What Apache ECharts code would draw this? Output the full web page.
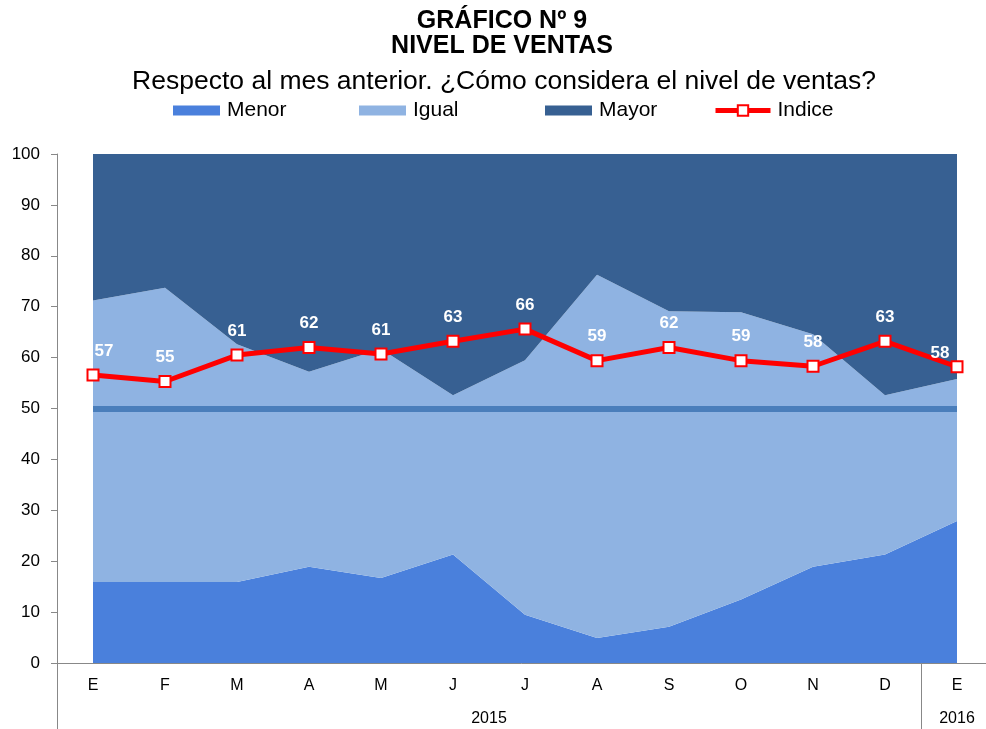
<!DOCTYPE html>
<html>
<head>
<meta charset="utf-8">
<script src="https://cdn.jsdelivr.net/npm/echarts@6/dist/echarts.min.js"></script>
<style>
  html, body { margin: 0; padding: 0; background: #fff; }
  #chart { width: 986px; height: 729px; }
</style>
</head>
<body>
<div id="chart"></div>
<script>
// meses (2015 + enero 2016)
const months = ['E', 'F', 'M', 'A', 'M', 'J', 'J', 'A', 'S', 'O', 'N', 'D', 'E'];
const years = ['2015', '2016'];
// porcentajes
const menor = [15.9, 15.9, 15.9, 18.9, 16.7, 21.3, 9.5, 4.9, 7.1, 12.5, 18.9, 21.3, 27.9];
const igual = [55.3, 57.8, 46.7, 38.3, 45.0, 31.3, 50.0, 71.4, 62.0, 56.4, 45.7, 31.3, 27.9];
const mayor = [28.8, 26.3, 37.4, 42.8, 38.3, 47.4, 40.5, 23.7, 30.9, 31.1, 35.4, 47.4, 44.2];
const indice = [56.6, 55.3, 60.5, 62.0, 60.7, 63.2, 65.6, 59.4, 62.0, 59.4, 58.3, 63.2, 58.2];
const referencia = 50;
const yTicks = { min: 0, max: 100, interval: 10 };

// eje de años: 27 posiciones de medio mes, 2015 centrado en ene-dic, 2016 en ene
const yearSlots = new Array(27).fill('');
yearSlots[12] = years[0];
yearSlots[25] = years[1];

const chart = echarts.init(document.getElementById('chart'));
const font = 'Liberation Sans, Arial, sans-serif';

function areaSeries(name, data, color) {
  return {
    name: name,
    type: 'line',
    stack: 'total',
    data: data,
    symbol: 'none',
    color: color,
    lineStyle: { width: 0, opacity: 0 },
    areaStyle: { color: color, opacity: 1 },
    itemStyle: { color: color }
  };
}

// una leyenda por elemento para respetar los espacios del original
function legendItem(name, left, extra) {
  return Object.assign({
    left: left,
    top: 95,
    itemWidth: 47,
    itemHeight: 10,
    textStyle: { fontSize: 21, color: '#000', fontFamily: font, padding: [0, 0, 0, 2] },
    data: [{ name: name, icon: 'rect' }]
  }, extra || {});
}

// los rotulos de los extremos se desplazan como en el original
const labelOffsets = { 0: [11, 0], 12: [-17, 11] };
const indiceData = indice.map((v, i) => labelOffsets[i] ? { value: v, label: { offset: labelOffsets[i] } } : v);

const option = {
  animation: false,
  textStyle: { fontFamily: font },
  title: [
    {
      text: 'GRÁFICO Nº 9\nNIVEL DE VENTAS',
      left: 497,
      top: 4,
      textAlign: 'center',
      textStyle: { fontSize: 25, fontWeight: 'bold', color: '#000', lineHeight: 25, fontFamily: font }
    },
    {
      text: 'Respecto al mes anterior. ¿Cómo considera el nivel de ventas?',
      left: 499,
      top: 63,
      textAlign: 'center',
      textStyle: { fontSize: 26.5, fontWeight: 'normal', color: '#000', lineHeight: 28, fontFamily: font }
    }
  ],
  legend: [
    legendItem('Menor', 168),
    legendItem('Igual', 354),
    legendItem('Mayor', 540),
    legendItem('Indice', 708, {
      itemWidth: 55,
      itemHeight: 13,
      top: 95,
      data: [{ name: 'Indice', lineStyle: { width: 5 } }]
    })
  ],
  grid: { left: 57, top: 154, right: -7, bottom: 66, containLabel: false, outerBoundsMode: 'none' },
  xAxis: [
    {
      type: 'category',
      data: months,
      boundaryGap: true,
      axisLine: { lineStyle: { color: '#888', width: 1 } },
      axisTick: { interval: 0, length: 33, lineStyle: { color: '#888' } },
      axisLabel: { interval: 0, margin: 15, fontSize: 16, color: '#000', fontFamily: font }
    },
    {
      type: 'category',
      position: 'bottom',
      data: yearSlots,
      boundaryGap: false,
      axisLine: { show: false },
      axisTick: {
        length: 66,
        interval: function (idx) { return idx === 0 || idx === 24; },
        lineStyle: { color: '#888' }
      },
      axisLabel: {
        margin: 48,
        fontSize: 16,
        color: '#000',
        fontFamily: font,
        interval: function (idx, val) { return val !== ''; }
      }
    }
  ],
  yAxis: {
    type: 'value',
    min: yTicks.min,
    max: yTicks.max,
    interval: yTicks.interval,
    splitLine: { show: false },
    axisLine: { show: true, lineStyle: { color: '#888' } },
    axisTick: { show: true, length: 6, lineStyle: { color: '#888' } },
    axisLabel: { margin: 17, fontSize: 17, color: '#000', fontFamily: font }
  },
  series: [
    areaSeries('Menor', menor, '#4A80DC'),
    areaSeries('Igual', igual, '#8FB3E2'),
    Object.assign(areaSeries('Mayor', mayor, '#376092'), {
      markLine: {
        silent: true,
        symbol: 'none',
        label: { show: false },
        lineStyle: { color: '#4A7EBB', width: 6, type: 'solid' },
        data: [[{ coord: [0, referencia] }, { coord: [months.length - 1, referencia] }]]
      }
    }),
    {
      name: 'Indice',
      type: 'line',
      data: indiceData,
      z: 5,
      clip: false,
      symbol: 'rect',
      symbolSize: 11,
      color: '#FF0000',
      lineStyle: { color: '#FF0000', width: 5 },
      itemStyle: { color: '#fff', borderColor: '#FF0000', borderWidth: 2 },
      label: {
        show: true,
        position: 'top',
        distance: 9,
        color: '#fff',
        fontWeight: 'bold',
        fontSize: 17,
        fontFamily: font,
        formatter: function (p) { return Math.round(p.value); }
      }
    }
  ]
};

chart.setOption(option);
</script>
</body>
</html>
